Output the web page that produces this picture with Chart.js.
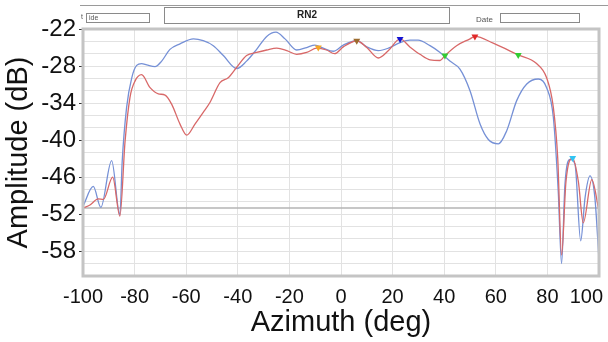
<!DOCTYPE html>
<html>
<head>
<meta charset="utf-8">
<script src="https://cdn.jsdelivr.net/npm/chart.js@4.4.1/dist/chart.umd.min.js"></script>
<style>
  body { margin: 0; background: #fff; font-family: "Liberation Sans", Arial, sans-serif; }
  #wrap { position: relative; width: 608px; height: 342px; overflow: hidden; }
  #chart-box { position: absolute; left: 0; top: 0; width: 608px; height: 342px; }
  .hline { position: absolute; left: 80px; top: 5px; width: 528px; height: 0; border-top: 1px solid #9a9a9a; }
  .box { position: absolute; border: 1px solid #8a8a8a; background: #fff; box-sizing: border-box; }
  .small { position: absolute; font-size: 7px; color: #555; }
  #title { position: absolute; left: 164px; top: 7px; width: 286px; height: 17px; text-align: center;
           font-size: 10px; font-weight: bold; line-height: 14px; color: #222; }
</style>
</head>
<body>
<div id="wrap">
  <div id="chart-box"><canvas id="pattern-chart"></canvas></div>
  <div class="hline"></div>
  <div class="small" style="left:81px; top:13px;">t</div>
  <div class="box" style="left:86px; top:13px; width:64px; height:10px;"><span class="small" style="left:2px; top:0px;">ide</span></div>
  <div class="box" id="title">RN2</div>
  <div class="small" style="left:476px; top:15px; font-size:8px;">Date</div>
  <div class="box" style="left:500px; top:13px; width:80px; height:10px;"></div>
</div>
<script>
// blue trace
const blueAz = [-100, -96, -93.1, -88.9, -85.7, -84.8, -83.1, -81.1, -79.2, -77.3, -75.3, -72.1, -69.5, -66.3, -62.4, -57.2, -53.4, -49.5, -45.6, -40.4, -36.6, -32.7, -28.8, -25.2, -21.7, -17.2, -13.3, -10.1, -6.9, -3.0, 0.9, 6.1, 10.0, 14.5, 18.4, 22.9, 26.7, 29.9, 34.5, 38.4, 42.2, 46.1, 50.0, 53.9, 57.1, 61.0, 64.2, 68.1, 72.0, 76.5, 79.7, 82.3, 84.2, 85.5, 86.8, 88.8, 90.7, 92.9, 94.6, 96.5, 98.4, 100];
const blueAmp = [-50.7, -47.5, -50.9, -43.3, -52.1, -43.4, -34.7, -29.9, -27.9, -27.6, -27.8, -28.1, -27.2, -25.3, -24.4, -23.6, -23.9, -24.7, -26.3, -28.4, -27.2, -25.3, -23.2, -22.5, -23.6, -25.4, -25.0, -24.6, -25.1, -25.6, -24.6, -23.9, -24.9, -25.5, -25.1, -24.2, -23.8, -23.8, -24.7, -25.8, -27.2, -28.5, -32.0, -37.4, -39.9, -40.6, -38.5, -33.6, -30.9, -30.1, -31.5, -36.3, -48.3, -60.0, -47.2, -43.1, -43.9, -56.3, -49.3, -45.8, -49.3, -59.4];

// red trace
const redAz = [-100, -97.3, -94.1, -92.1, -88.5, -85.7, -83.7, -81.8, -79.8, -77.3, -74.0, -70.8, -68.2, -65.6, -62.4, -59.8, -56.6, -53.4, -50.8, -46.9, -43.7, -40.4, -36.6, -32.7, -28.8, -24.9, -21.0, -17.2, -13.3, -9.4, -5.6, -2.5, 0.9, 6.1, 10.0, 14.5, 18.4, 22.9, 26.7, 30.6, 34.5, 38.4, 40.3, 44.8, 50.0, 51.9, 59.0, 68.7, 75.8, 79.7, 82.3, 84.0, 85.5, 87.2, 89.8, 92.0, 93.9, 97.2, 100];
const redAmp = [-51.0, -50.5, -49.5, -49.6, -46.0, -52.3, -40.2, -33.1, -30.4, -29.4, -31.5, -32.5, -32.7, -34.2, -37.4, -39.2, -37.4, -35.5, -33.9, -30.7, -29.9, -28.2, -26.3, -25.8, -25.4, -25.1, -25.5, -26.1, -25.8, -25.1, -25.4, -26.0, -24.9, -23.9, -25.0, -26.7, -25.5, -23.6, -24.9, -26.1, -27.0, -27.1, -26.3, -24.7, -23.6, -23.2, -24.3, -26.2, -27.6, -29.9, -34.7, -42.9, -58.6, -46.7, -42.9, -46.7, -53.4, -46.4, -51.5];

// markers
const markerAz = [-8.8, 6.1, 22.9, 40.3, 51.9, 68.7, 89.8];
const markerAmp = [-25.0, -23.9, -23.6, -26.3, -23.2, -26.2, -42.9];
const markerColors = ['#f5a623', '#9c6b2e', '#1414d2', '#33cc33', '#e02828', '#33cc33', '#33c4f2'];

// reference line
const refAz = [-100, 100];
const refAmp = [-51, -51];

const xTicks = [-100, -80, -60, -40, -20, 0, 20, 40, 60, 80, 100];
const yLabels = [-22, -28, -34, -40, -46, -52, -58];

function pts(xs, ys) {
    return xs.map((x, i) => ({ x: x, y: ys[i] }));
}

const framePlugin = {
    id: 'frame',
    beforeDraw(chart) {
        // keep the last x label inside the canvas
        const items = chart.scales.x.getLabelItems(chart.chartArea);
        const last = items[items.length - 1];
        if (last) {
            last.options.textAlign = 'right';
            last.options.translation[0] = chart.chartArea.right + 4;
        }
    },
    afterDatasetsDraw(chart) {
        const a = chart.chartArea;
        const c = chart.ctx;
        c.save();
        c.strokeStyle = '#c4c4c4';
        c.lineWidth = 3;
        c.strokeRect(a.left, a.top, a.right - a.left, a.bottom - a.top);
        c.restore();
    }
};

new Chart(document.getElementById('pattern-chart'), {
    type: 'line',
    data: {
        datasets: [
            {
                data: pts(markerAz, markerAmp),
                showLine: false,
                pointStyle: 'triangle',
                pointRotation: 180,
                pointRadius: 4,
                pointBackgroundColor: markerColors,
                pointBorderColor: markerColors,
                pointBorderWidth: 0,
                order: 0
            },
            {
                data: pts(blueAz, blueAmp),
                borderColor: '#7590d6',
                borderWidth: 1.3,
                pointRadius: 0,
                cubicInterpolationMode: 'monotone',
                order: 2
            },
            {
                data: pts(redAz, redAmp),
                borderColor: '#d86868',
                borderWidth: 1.3,
                pointRadius: 0,
                cubicInterpolationMode: 'monotone',
                order: 1
            },
            {
                data: pts(refAz, refAmp),
                borderColor: '#b4b4b4',
                borderWidth: 1.5,
                pointRadius: 0,
                order: 3
            }
        ]
    },
    options: {
        responsive: true,
        maintainAspectRatio: false,
        animation: false,
        events: [],
        layout: { padding: { top: 29, right: 9, left: 0, bottom: 0 } },
        plugins: { legend: { display: false }, tooltip: { enabled: false } },
        scales: {
            x: {
                type: 'linear',
                min: -100,
                max: 100,
                afterBuildTicks(scale) {
                    scale.ticks = xTicks.map(v => ({ value: v }));
                },
                afterFit(scale) {
                    scale.height = 66;
                    scale.paddingLeft = 0;
                    scale.paddingRight = 0;
                },
                grid: { color: '#e2e2e2', drawTicks: false },
                border: { display: false },
                ticks: {
                    color: '#111',
                    padding: 9,
                    maxRotation: 0,
                    autoSkip: false,
                    font: { family: 'Liberation Sans', size: 20 }
                },
                title: {
                    display: true,
                    text: 'Azimuth (deg)',
                    color: '#111',
                    padding: { top: 0, bottom: 2 },
                    font: { family: 'Liberation Sans', size: 29 }
                }
            },
            y: {
                type: 'linear',
                min: -62,
                max: -22,
                afterBuildTicks(scale) {
                    const t = [];
                    for (let v = -62; v <= -22; v += 2) t.push({ value: v });
                    scale.ticks = t;
                },
                afterFit(scale) {
                    scale.width = 83;
                    scale.paddingTop = 0;
                    scale.paddingBottom = 0;
                },
                grid: {
                    color: '#e2e2e2',
                    tickLength: 4,
                    tickColor: ctx => yLabels.includes(ctx.tick.value) ? '#333' : 'rgba(0,0,0,0)'
                },
                border: { display: false },
                ticks: {
                    color: '#111',
                    padding: 3,
                    autoSkip: false,
                    font: { family: 'Liberation Sans', size: 24 },
                    callback: v => yLabels.includes(v) ? String(v) : ''
                },
                title: {
                    display: true,
                    text: 'Amplitude (dB)',
                    color: '#111',
                    padding: 2,
                    font: { family: 'Liberation Sans', size: 29 }
                }
            }
        }
    },
    plugins: [framePlugin]
});
</script>
</body>
</html>
